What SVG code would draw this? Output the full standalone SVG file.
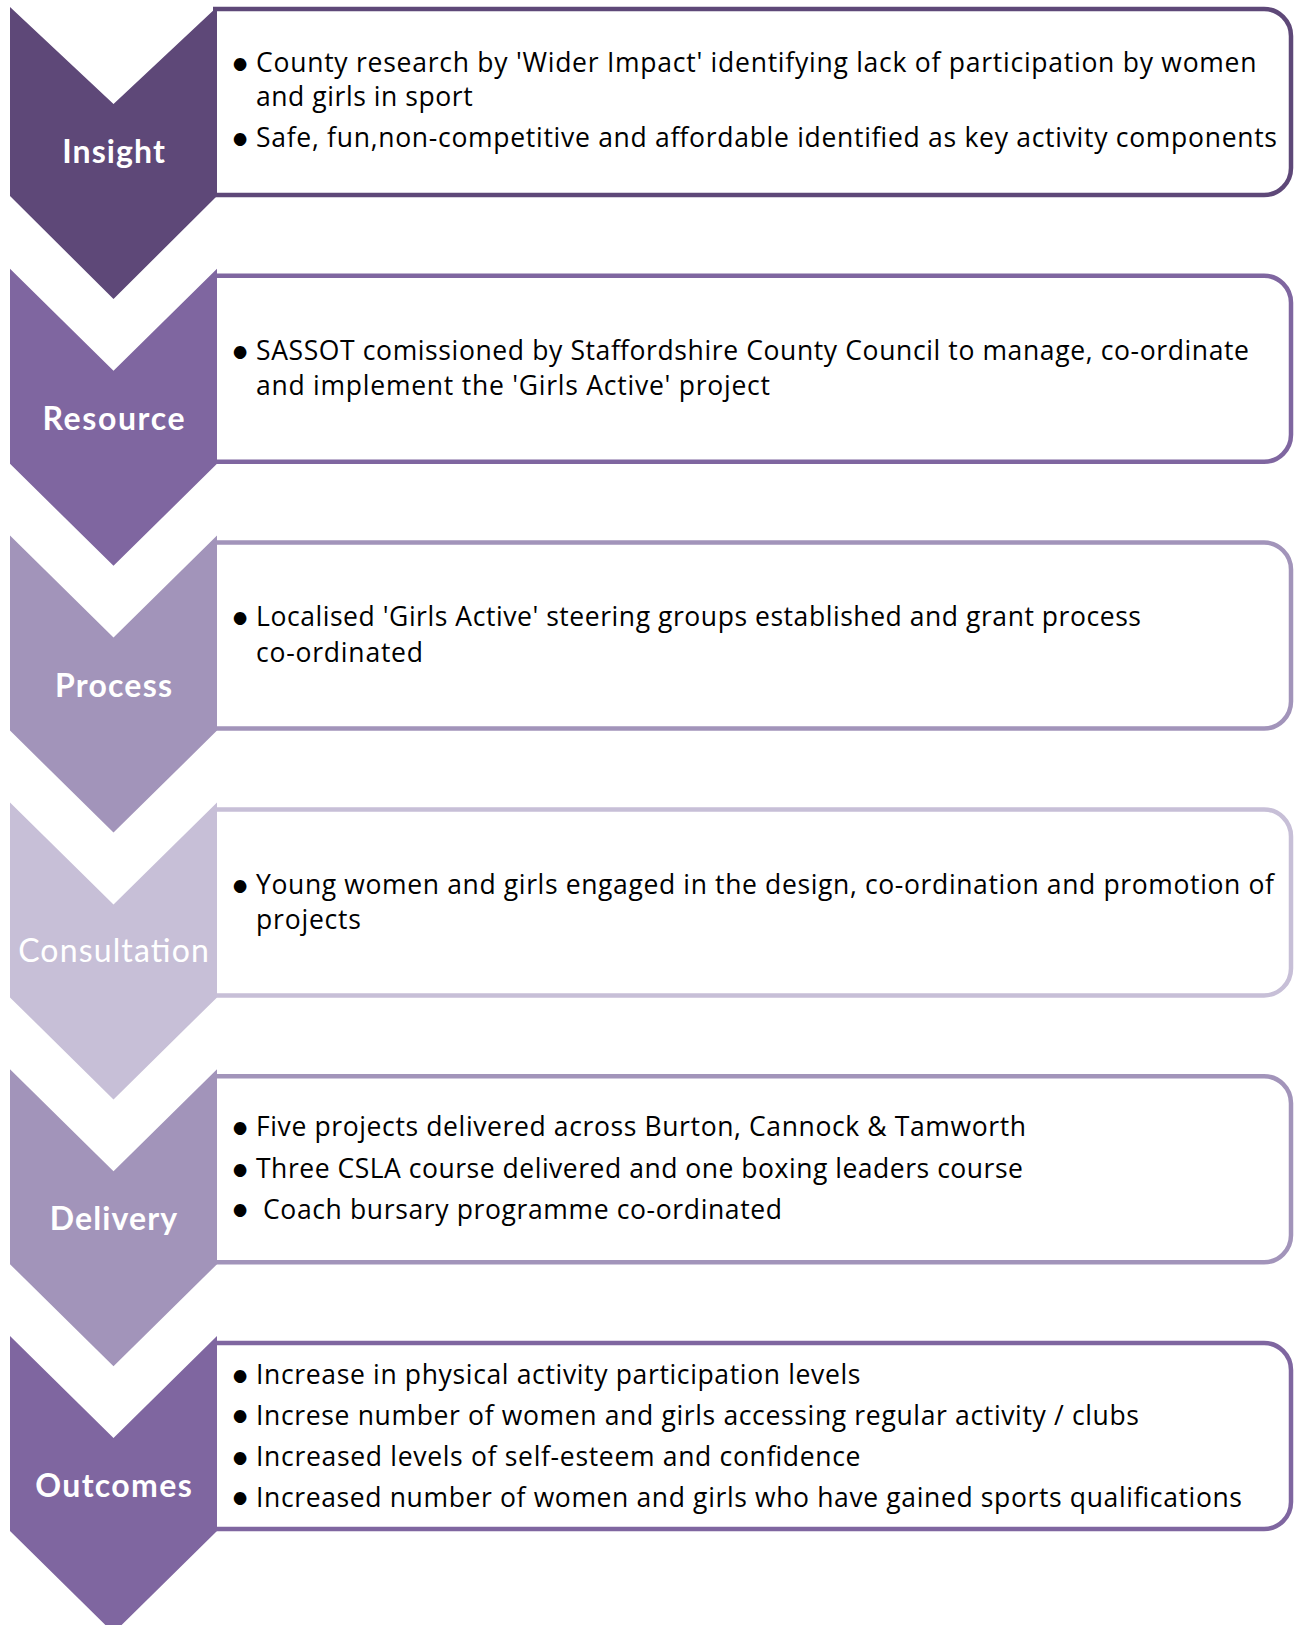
<svg xmlns="http://www.w3.org/2000/svg" width="1299" height="1625" viewBox="0 0 1299 1625">
<style>
.box{fill:#fff;stroke-width:4.5}
.lbl{font-family:Lato,"Liberation Sans",sans-serif;font-size:32px;font-weight:bold;fill:#fff;text-anchor:middle}
.lblr{font-weight:normal}
.t{font-family:"Open Sans","Liberation Sans",sans-serif;font-size:26.5px;fill:#000}
.b{font-family:Lato,"Liberation Sans",sans-serif;font-size:34px;fill:#000;text-anchor:middle}
</style>
<rect width="1299" height="1625" fill="#fff"/>
<g id="insight">
<path class="box" stroke="#5E4878" d="M213,9 H1264 A27,27 0 0 1 1291,36 V168 A27,27 0 0 1 1264,195 H213"/>
<polygon fill="#5E4878" points="10,7 113.5,104 217,7 217,196 113.5,299 10,196"/>
<text class="lbl" x="113.5" y="163" textLength="102.6">Insight</text>
<text class="b" x="240" y="74.5">•</text>
<text class="t" x="256" y="71.7" textLength="1000.5">County research by 'Wider Impact' identifying lack of participation by women</text>
<text class="t" x="256" y="106" textLength="216.7">and girls in sport</text>
<text class="b" x="240" y="150.2">•</text>
<text class="t" x="256" y="147.4" textLength="1021">Safe, fun,non-competitive and affordable identified as key activity components</text>
</g>
<g id="resource">
<path class="box" stroke="#7F66A0" d="M213,275.8 H1264 A27,27 0 0 1 1291,302.8 V434.8 A27,27 0 0 1 1264,461.8 H213"/>
<polygon fill="#7F66A0" points="10,268.8 113.5,370.8 217,268.8 217,463.8 113.5,565.8 10,463.8"/>
<text class="lbl" x="113.5" y="430" textLength="142">Resource</text>
<text class="b" x="240" y="362.8">•</text>
<text class="t" x="256" y="360" textLength="993">SASSOT comissioned by Staffordshire County Council to manage, co-ordinate</text>
<text class="t" x="256" y="395" textLength="514">and implement the 'Girls Active' project</text>
</g>
<g id="process">
<path class="box" stroke="#A294BA" d="M213,542.6 H1264 A27,27 0 0 1 1291,569.6 V701.6 A27,27 0 0 1 1264,728.6 H213"/>
<polygon fill="#A294BA" points="10,535.6 113.5,637.6 217,535.6 217,730.6 113.5,832.6 10,730.6"/>
<text class="lbl" x="113.5" y="696.8" textLength="117">Process</text>
<text class="b" x="240" y="629.1">•</text>
<text class="t" x="256" y="626.3" textLength="885">Localised 'Girls Active' steering groups established and grant process</text>
<text class="t" x="256" y="661.6" textLength="167">co-ordinated</text>
</g>
<g id="consultation">
<path class="box" stroke="#C7BFD7" d="M213,809.4 H1264 A27,27 0 0 1 1291,836.4 V968.4 A27,27 0 0 1 1264,995.4 H213"/>
<polygon fill="#C7BFD7" points="10,802.4 113.5,904.4 217,802.4 217,997.4 113.5,1099.4 10,997.4"/>
<text class="lbl lblr" x="113.5" y="962" textLength="190.7">Consultation</text>
<text class="b" x="240" y="896.6">•</text>
<text class="t" x="256" y="893.8" textLength="1018">Young women and girls engaged in the design, co-ordination and promotion of</text>
<text class="t" x="256" y="929" textLength="105">projects</text>
</g>
<g id="delivery">
<path class="box" stroke="#A294BA" d="M213,1076.2 H1264 A27,27 0 0 1 1291,1103.2 V1235.2 A27,27 0 0 1 1264,1262.2 H213"/>
<polygon fill="#A294BA" points="10,1069.2 113.5,1171.2 217,1069.2 217,1264.2 113.5,1366.2 10,1264.2"/>
<text class="lbl" x="113.5" y="1230.2" textLength="127.5">Delivery</text>
<text class="b" x="240" y="1139.1">•</text>
<text class="t" x="256" y="1136.3" textLength="770">Five projects delivered across Burton, Cannock &amp; Tamworth</text>
<text class="b" x="240" y="1180.8">•</text>
<text class="t" x="256" y="1178" textLength="767">Three CSLA course delivered and one boxing leaders course</text>
<text class="b" x="240" y="1221.3">•</text>
<text class="t" x="263" y="1218.5" textLength="519">Coach bursary programme co-ordinated</text>
</g>
<g id="outcomes">
<path class="box" stroke="#7F66A0" d="M213,1343 H1264 A27,27 0 0 1 1291,1370 V1502 A27,27 0 0 1 1264,1529 H213"/>
<polygon fill="#7F66A0" points="10,1336 113.5,1438 217,1336 217,1531 113.5,1633 10,1531"/>
<text class="lbl" x="113.5" y="1497" textLength="156.5">Outcomes</text>
<text class="b" x="240" y="1387">•</text>
<text class="t" x="256" y="1384.2" textLength="604.5">Increase in physical activity participation levels</text>
<text class="b" x="240" y="1427.4">•</text>
<text class="t" x="256" y="1424.6" textLength="883">Increse number of women and girls accessing regular activity / clubs</text>
<text class="b" x="240" y="1468.8">•</text>
<text class="t" x="256" y="1466" textLength="604.5">Increased levels of self-esteem and confidence</text>
<text class="b" x="240" y="1509.3">•</text>
<text class="t" x="256" y="1506.5" textLength="986">Increased number of women and girls who have gained sports qualifications</text>
</g>
</svg>
